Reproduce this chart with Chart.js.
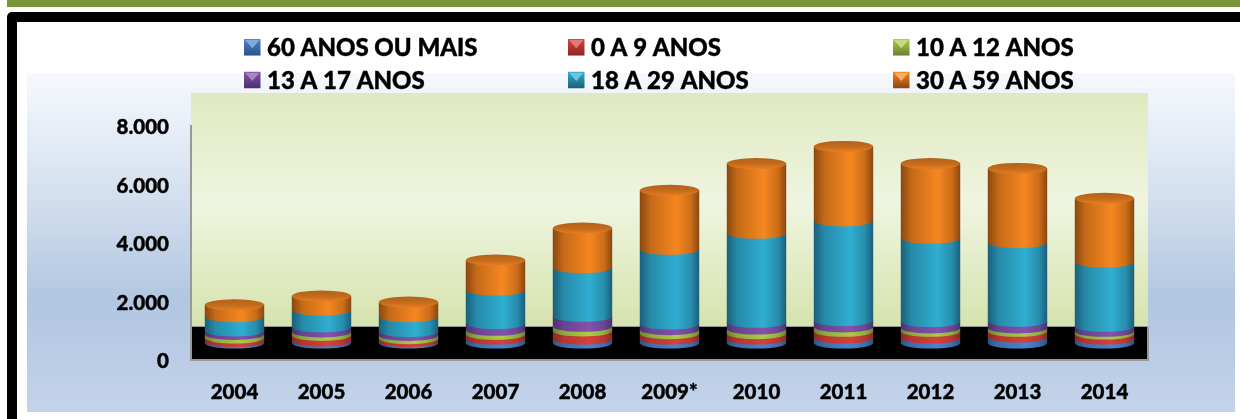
<!DOCTYPE html>
<html><head><meta charset="utf-8">
<style>html,body{margin:0;padding:0;background:#fff}canvas{display:block}</style>
<script src="https://cdn.jsdelivr.net/npm/chart.js@4"></script></head>
<body><canvas id="c" width="1240" height="419"></canvas>
<script>
const years = ['2004','2005','2006','2007','2008','2009*','2010','2011','2012','2013','2014'];
const idosos60 = [46,69,46,137,137,137,137,172,172,206,137];
const a0a9 = [126,195,103,160,275,183,183,229,229,195,172];
const a10a12 = [126,115,115,140,160,137,160,149,115,115,92];
const a13a17 = [114,172,126,230,343,195,229,217,217,229,172];
const a18a29 = [492,573,515,1145,1660,2552,3044,3410,2850,2690,2197];
const a30a59 = [400,480,492,1020,1350,2014,2380,2540,2552,2530,2174];
const tickValues = [0,2000,4000,6000,8000];

const F = 'Lato, "Open Sans", sans-serif';
const pal = {
  blue:['#2a5487','#4a83cc'], red:['#8c2826','#d6403a'], green:['#6d8030','#adcb48'],
  purple:['#4b3170','#8352ab'], teal:['#1a5f7a','#30aed0'], orange:['#8a4710','#f6871f']
};
const mk = (label,data,c)=>({label,data,backgroundColor:c[1],cyl:c,stack:'s'});
const datasets = [
  mk('60 ANOS OU MAIS',idosos60,pal.blue), mk('0 A 9 ANOS',a0a9,pal.red), mk('10 A 12 ANOS',a10a12,pal.green),
  mk('13 A 17 ANOS',a13a17,pal.purple), mk('18 A 29 ANOS',a18a29,pal.teal), mk('30 A 59 ANOS',a30a59,pal.orange)
];
const depth = 17, ry = 5.6;

function mix(a,b,t){const p=s=>[1,3,5].map(i=>parseInt(s.substr(i,2),16));const A=p(a),B=p(b);
  return 'rgb('+A.map((v,i)=>Math.round(v+(B[i]-v)*t)).join(',')+')';}

const decor = {
  id:'decor',
  beforeDraw(ch){
    const g=ch.ctx, {left,right,bottom}=ch.chartArea;
    g.save();
    g.fillStyle='#fff';g.fillRect(0,0,1240,419);
    g.fillStyle='#7a9438';g.fillRect(7,0,1233,7);
    g.fillStyle='#000';g.beginPath();g.roundRect(7,12,1300,500,5);g.fill();
    g.fillStyle='#fff';g.fillRect(17,22,1300,500);
    let gr=g.createLinearGradient(0,73,0,412);
    gr.addColorStop(0,'#f6f9fd');gr.addColorStop(.37,'#d3dfee');gr.addColorStop(.67,'#b1c6e1');gr.addColorStop(1,'#c3d3e9');
    g.fillStyle=gr;g.fillRect(27,73,1208,339);
    gr=g.createLinearGradient(0,93,0,327);
    gr.addColorStop(0,'#dfe9c0');gr.addColorStop(.47,'#eff5e0');gr.addColorStop(1,'#d5e3ad');
    g.fillStyle=gr;g.fillRect(left,93,right-left,234);
    g.fillStyle='#000';g.fillRect(left,327,right-left,bottom-327);
    g.fillStyle='#999';g.fillRect(left,326,right-left,1);g.fillRect(right-1,327,2,bottom-326);
    g.restore();
  }
};
const cylinders = {
  id:'cylinders',
  beforeDatasetsDraw(ch){
    const g=ch.ctx;
    g.save();
    g.filter='blur(0.6px)';
    ch.data.datasets.forEach((ds,di)=>{
      const top=di===ch.data.datasets.length-1, c=ds.cyl;
      ch.getDatasetMeta(di).data.forEach(el=>{
        const w=el.width,x0=el.x-w/2,x1=el.x+w/2,yt=el.y-depth,yb=el.base-depth;
        const gr=g.createLinearGradient(x0,0,x1,0);
        gr.addColorStop(0,c[0]);gr.addColorStop(.18,mix(c[0],c[1],.55));gr.addColorStop(.62,c[1]);
        gr.addColorStop(.86,mix(c[0],c[1],.6));gr.addColorStop(1,c[0]);
        g.fillStyle=gr;g.beginPath();g.moveTo(x0,yt);g.lineTo(x1,yt);g.lineTo(x1,yb);
        g.ellipse(el.x,yb,w/2,ry,0,0,Math.PI);g.closePath();g.fill();
        if(top){
          const t=g.createLinearGradient(0,yt-ry,0,yt+ry+1);
          t.addColorStop(0,'#b2601a');t.addColorStop(.5,'#c56c1c');t.addColorStop(.85,'#e37a22');t.addColorStop(1,'#ee8426');
          g.fillStyle=t;g.beginPath();g.ellipse(el.x,yt,w/2,ry,0,0,Math.PI*2);g.fill();
        }
      });
    });
    g.restore();
    return false;
  }
};
const legendCols=[244,568,893], legendRows=[47.3,80];
const legend = {
  id:'legend6',
  afterDraw(ch){
    const g=ch.ctx;
    ch.data.datasets.forEach((ds,i)=>{
      const x=legendCols[i%3], y=legendRows[Math.floor(i/3)], s=16.5, c=ds.cyl;
      g.save();
      const b=g.createLinearGradient(0,y-s/2,0,y+s/2);
      b.addColorStop(0,c[1]);b.addColorStop(1,c[0]);
      g.fillStyle=b;g.fillRect(x,y-s/2,s,s);
      g.fillStyle=mix(c[1],'#ffffff',.3);g.beginPath();g.moveTo(x+1,y-s/2+1);g.lineTo(x+s-1,y-s/2+1);g.lineTo(x+s/2,y+1);g.closePath();g.fill();
      g.fillStyle='#000';g.strokeStyle='#000';g.lineWidth=.4;g.font='900 24px '+F;g.textAlign='left';g.textBaseline='middle';
      g.fillText(ds.label,x+23,y+1);g.strokeText(ds.label,x+23,y+1);
      g.restore();
    });
  }
};
new Chart(document.getElementById('c'),{
  type:'bar',
  data:{labels:years,datasets},
  plugins:[decor,cylinders,legend],
  options:{
    responsive:false,animation:false,
    layout:{padding:{left:0,right:92,top:126,bottom:0}},
    plugins:{legend:{display:false},tooltip:{enabled:false}},
    datasets:{bar:{categoryPercentage:.683,barPercentage:1}},
    scales:{
      x:{stacked:true,afterFit:s=>{s.height=59},
        grid:{display:false,drawTicks:false},border:{color:'#999',width:2},
        ticks:{color:'#000',padding:20,textStrokeColor:'#000',textStrokeWidth:.4,font:{family:F,weight:'900',size:20.5}}},
      y:{stacked:true,min:0,max:8000,afterFit:s=>{s.width=191},
        afterBuildTicks:s=>{s.ticks=tickValues.map(value=>({value}))},
        grid:{display:false,drawTicks:false},border:{color:'#999',width:2},
        ticks:{color:'#000',padding:22,labelOffset:1.5,textStrokeColor:'#000',textStrokeWidth:.4,font:{family:F,weight:'900',size:20.5},
          callback:v=>String(v).replace(/\B(?=(\d{3})+$)/g,'.')}}
    }
  }
});
</script></body></html>
